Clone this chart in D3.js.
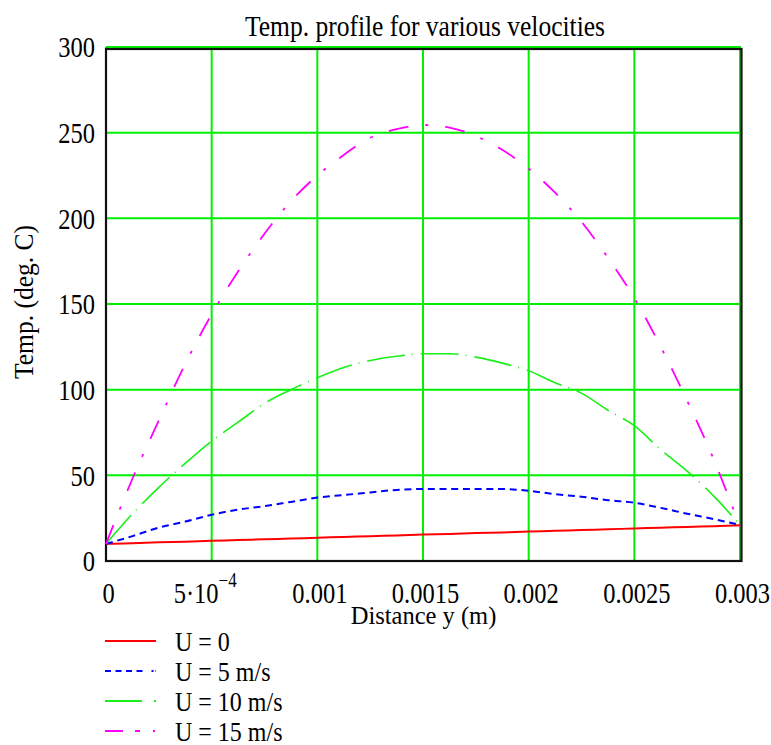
<!DOCTYPE html>
<html>
<head>
<meta charset="utf-8">
<script src="https://cdn.jsdelivr.net/npm/d3@7"></script>
<style>
  body { margin: 0; background: #fff; }
  text { font-family: "Liberation Serif", "Times New Roman", serif; fill: #000; }
</style>
</head>
<body>
<svg id="root" width="771" height="745"></svg>
<script>
// distance across the channel (m)
const distance = [0, 0.000125, 0.00025, 0.000375, 0.0005, 0.000625, 0.00075, 0.000875,
    0.001, 0.001125, 0.00125, 0.001375, 0.0015, 0.001625, 0.00175, 0.001875,
    0.002, 0.002125, 0.00225, 0.002375, 0.0025, 0.002625, 0.00275, 0.002875, 0.003];

// temperature (deg C) for each velocity
const tempU0 = [10, 10.4, 10.9, 11.3, 11.8, 12.2, 12.7, 13.1, 13.6, 14.0, 14.5, 14.9, 15.4,
    15.8, 16.3, 16.7, 17.2, 17.6, 18.1, 18.5, 19.0, 19.4, 19.9, 20.3, 20.8];
const tempU5 = [10, 14.5, 19.5, 23, 27, 30, 32, 34.5, 37, 38.5, 40, 41.5, 42,
    42, 42, 42, 41, 39, 37.5, 35.5, 34, 31, 27.6, 24.5, 21];
const tempU10 = [10, 27.5, 43, 57, 70, 81, 92, 100, 107, 113, 117, 119.5, 121,
    121, 119, 115.5, 111, 104, 98, 88, 79, 65, 52.5, 38, 21];
const tempU15 = [10, 48, 82, 115, 144, 169, 191, 210, 225, 237, 247, 252, 254.5,
    253, 248, 240, 229, 215, 198, 177, 153.5, 125, 93.5, 59.5, 20];

const seriesLabels = ["U = 0", "U = 5 m/s", "U = 10 m/s", "U = 15 m/s"];
const xTicks = [0, 0.0005, 0.001, 0.0015, 0.002, 0.0025, 0.003];
const xTickLabels = ["0", "5·10", "0.001", "0.0015", "0.002", "0.0025", "0.003"];
const yTicks = [0, 50, 100, 150, 200, 250, 300];

const lineStyles = [
    { color: "#ff0000", dash: null, width: 2 },
    { color: "#0000ff", dash: "7,4.7", width: 2 },
    { color: "#19f019", dash: "38,7,1,8", width: 1.6 },
    { color: "#ff00ff", dash: "20,17,3,17", width: 1.8 },
];

const main = () => {
    const svg = d3.select("#root");
    const stretch = 1.17; // the original text is taller than it is wide

    const margin = { left: 106, right: 740, top: 47, bottom: 561 };

    const x = d3.scaleLinear().domain([0, 0.003]).range([margin.left, margin.right]);
    const y = d3.scaleLinear().domain([0, 300]).range([margin.bottom, margin.top]);

    // grid
    const grid = svg.append("g").attr("stroke", "#00f000").attr("stroke-width", 2);
    grid.selectAll(".vg")
        .data(xTicks)
        .join("line")
        .attr("x1", (d) => x(d)).attr("x2", (d) => x(d))
        .attr("y1", margin.top).attr("y2", margin.bottom);
    grid.selectAll(".hg")
        .data(yTicks)
        .join("line")
        .attr("x1", margin.left).attr("x2", margin.right + 1)
        .attr("y1", (d) => y(d)).attr("y2", (d) => y(d));

    // frame
    svg.append("rect")
        .attr("x", 106).attr("y", 49)
        .attr("width", 635.5).attr("height", 512)
        .attr("fill", "none")
        .attr("stroke", "#111")
        .attr("stroke-width", 2.2);

    // curves
    const allSeries = [tempU0, tempU5, tempU10, tempU15];
    const line = d3.line()
        .x((d, i) => x(distance[i]))
        .y((d) => y(d))
        .curve(d3.curveMonotoneX);

    svg.append("g")
        .selectAll("path")
        .data(allSeries)
        .join("path")
        .attr("d", (d) => line(d))
        .attr("fill", "none")
        .attr("stroke", (d, i) => lineStyles[i].color)
        .attr("stroke-width", (d, i) => lineStyles[i].width)
        .attr("stroke-dasharray", (d, i) => lineStyles[i].dash);

    // y axis labels
    const yAxis = d3.axisLeft(y).tickValues(yTicks).tickSize(0).tickPadding(0);
    svg.append("g")
        .attr("transform", `translate(${margin.left},0)`)
        .call(yAxis)
        .call((g) => g.select(".domain").remove())
        .call((g) =>
            g.selectAll("text")
                .attr("x", -11)
                .attr("y", 9.7 / stretch)
                .attr("dy", null)
                .attr("transform", `scale(1,${stretch})`)
                .style("font-size", "24.5px")
                .style("font-family", "Liberation Serif")
                .attr("fill", "#000")
        );

    // x axis labels
    const xAxis = d3.axisBottom(x)
        .tickValues(xTicks)
        .tickSize(0)
        .tickFormat((d, i) => xTickLabels[i]);
    svg.append("g")
        .call(xAxis)
        .call((g) => g.select(".domain").remove())
        .call((g) =>
            g.selectAll("text")
                .attr("x", 2)
                .attr("y", 603 / stretch)
                .attr("dy", null)
                .attr("transform", `scale(1,${stretch})`)
                .style("font-size", "24.5px")
                .style("font-family", "Liberation Serif")
                .attr("fill", "#000")
                .each(function (d) {
                    if (d !== 0.0005) return;
                    const t = d3.select(this).attr("x", -7);
                    t.append("tspan")
                        .attr("dy", -14)
                        .style("font-size", "17px")
                        .text("\u22124");
                })
        );

    // title
    svg.append("text")
        .attr("transform", `translate(425,36) scale(1,${stretch})`)
        .attr("text-anchor", "middle")
        .style("font-size", "25.5px")
        .text("Temp. profile for various velocities");

    // axis titles
    svg.append("text")
        .attr("transform", "translate(423.5,624)")
        .attr("text-anchor", "middle")
        .style("font-size", "24.5px")
        .text("Distance y (m)");

    svg.append("text")
        .attr("transform", "translate(33,302) rotate(-90) scale(1,1.1)")
        .attr("text-anchor", "middle")
        .style("font-size", "25.5px")
        .text("Temp. (deg. C)");

    // legend
    const legend = svg.append("g")
        .selectAll("g")
        .data(seriesLabels)
        .join("g")
        .attr("transform", (d, i) => `translate(105,${641 + i * 30})`);

    legend.append("line")
        .attr("x1", 0).attr("x2", 51)
        .attr("stroke", (d, i) => lineStyles[i].color)
        .attr("stroke-width", 2)
        .attr("stroke-dasharray", (d, i) => ["", "6,4.5,6,4.5,6,4.5,6,9,2,2", "37,12,2,2", "18,12,5,13,2,2"][i]);

    legend.append("text")
        .attr("transform", `translate(70,10) scale(1,${stretch})`)
        .style("font-size", "24px")
        .text((d) => d);
};

main();
</script>
</body>
</html>
